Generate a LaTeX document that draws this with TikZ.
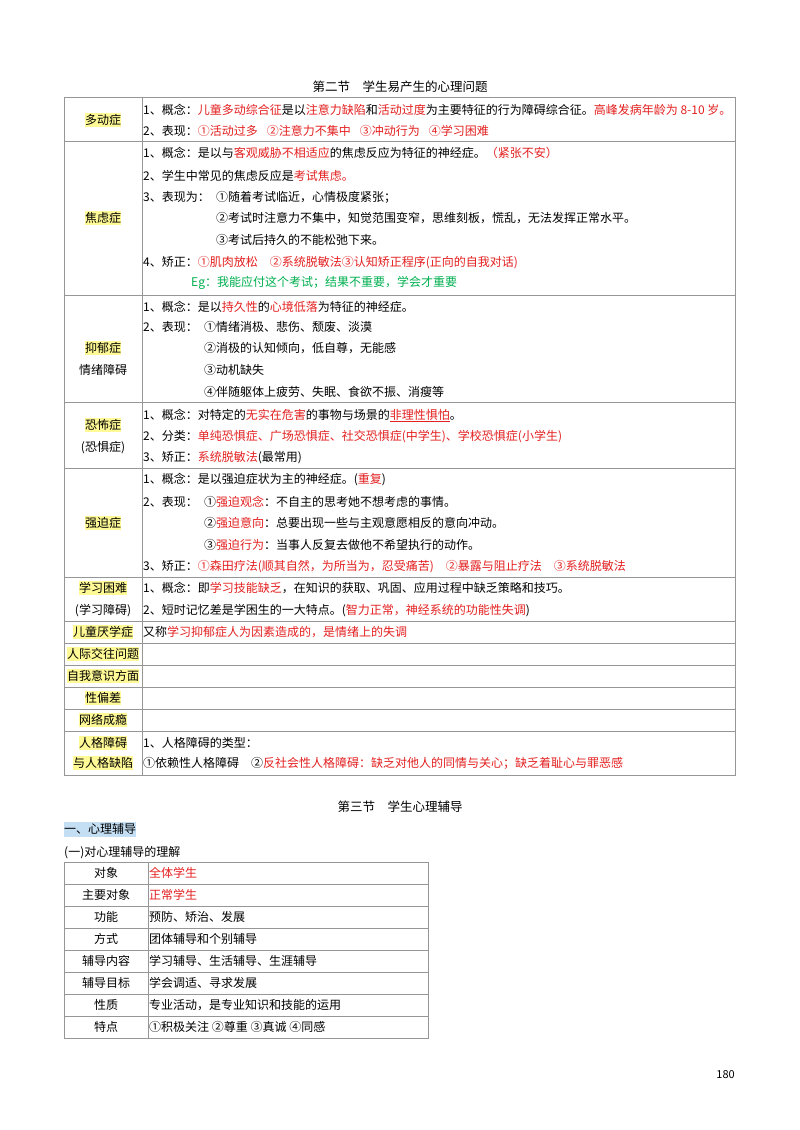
\documentclass[tikz,border=0pt]{standalone}
\usepackage{fontspec}
\setmainfont{Noto Sans CJK SC}
\usetikzlibrary{positioning}
\definecolor{redtxt}{RGB}{228,32,32}
\definecolor{grntxt}{RGB}{0,176,80}
\definecolor{hlyellow}{RGB}{255,250,150}
\definecolor{hlblue}{RGB}{196,222,244}
\definecolor{gridgray}{RGB}{150,150,150}
\newcommand{\redt}[1]{\textcolor{redtxt}{#1}}
\newcommand{\grnt}[1]{\textcolor{grntxt}{#1}}
\newcommand{\gap}{\hspace{0.75em}}

\begin{document}
\begin{tikzpicture}[x=1pt,y=-1pt,
  every node/.style={font=\fontsize{12}{14}\selectfont},
  lab/.style={fill=hlyellow,inner xsep=0pt,inner ysep=0.6pt,text height=10pt,text depth=2pt},
  sub/.style={inner sep=0pt,text height=10pt,text depth=2pt},
  ln/.style={anchor=west,inner sep=0pt,text height=10pt,text depth=2pt},
  grid/.style={draw=gridgray,line width=1pt}]

\fill[white] (0,0) rectangle (800,1130);
\useasboundingbox (0,0) rectangle (800,1130);

\node (t2) at (400,87)[font=\fontsize{12.5}{14}\selectfont] {第二节\quad 学生易产生的心理问题};

\draw[grid] (64,97) rectangle (735,775);
\draw[grid] (142,97) -- (142,775);
\draw[grid] (64,141) -- (735,141) (64,295) -- (735,295) (64,402) -- (735,402) (64,468) -- (735,468)
  (64,577) -- (735,577) (64,621) -- (735,621) (64,643) -- (735,643) (64,665) -- (735,665)
  (64,687) -- (735,687) (64,709) -- (735,709) (64,731) -- (735,731);

\node (dd) at (103,120)[lab] {多动症};
\node (dd1) at (143,110)[ln] {1、概念：\redt{儿童多动综合征}是以\redt{注意力缺陷}和\redt{活动过度}为主要特征的行为障碍综合征。\redt{高峰发病年龄为 8-10 岁。}};
\node (dd2) at (143,131)[ln] {2、表现：\redt{①活动过多\gap ②注意力不集中\gap ③冲动行为\gap ④学习困难}};

\node (jl) at (103,218)[lab] {焦虑症};
\node (jl1) at (143,153)[ln] {1、概念：是以与\redt{客观威胁不相适应}的焦虑反应为特征的神经症。\redt{（紧张不安）}};
\node (jl2) at (143,176)[ln] {2、学生中常见的焦虑反应是\redt{考试焦虑。}};
\node (jl3) at (143,197)[ln] {3、表现为：};
\node (jl3a) at (216,197)[ln] {①随着考试临近，心情极度紧张；};
\node (jl3b) at (216,218)[ln] {②考试时注意力不集中，知觉范围变窄，思维刻板，慌乱，无法发挥正常水平。};
\node (jl3c) at (216,240)[ln] {③考试后持久的不能松弛下来。};
\node (jl4) at (143,262)[ln] {4、矫正：\redt{①肌肉放松\hspace{1em}②系统脱敏法③认知矫正程序(正向的自我对话)}};
\node (jl5) at (191,282)[ln] {\grnt{Eg：我能应付这个考试；结果不重要，学会才重要}};

\node (yy) at (103,348)[lab] {抑郁症};
\node (yys) at (103,370)[sub] {情绪障碍};
\node (yy1) at (143,307)[ln] {1、概念：是以\redt{持久性}的\redt{心境低落}为特征的神经症。};
\node (yy2) at (143,327)[ln] {2、表现：};
\node (yy2a) at (204,327)[ln] {①情绪消极、悲伤、颓废、淡漠};
\node (yy2b) at (204,348)[ln] {②消极的认知倾向，低自尊，无能感};
\node (yy2c) at (204,370)[ln] {③动机缺失};
\node (yy2d) at (204,392)[ln] {④伴随躯体上疲劳、失眠、食欲不振、消瘦等};

\node (kb) at (103,425)[lab] {恐怖症};
\node (kbs) at (103,447)[sub] {(恐惧症)};
\node (kb1) at (143,415)[ln] {1、概念：对特定的\redt{无实在危害}的事物与场景的\textcolor{redtxt}{\underline{非理性惧怕}}。};
\node (kb2) at (143,436)[ln] {2、分类：\redt{单纯恐惧症、广场恐惧症、社交恐惧症(中学生)、学校恐惧症(小学生)}};
\node (kb3) at (143,457)[ln] {3、矫正：\redt{系统脱敏法}(最常用)};

\node (qp) at (103,523)[lab] {强迫症};
\node (qp1) at (143,479)[ln] {1、概念：是以强迫症状为主的神经症。(\redt{重复})};
\node (qp2) at (143,502)[ln] {2、表现：};
\node (qp2a) at (204,502)[ln] {①\redt{强迫观念}：不自主的思考她不想考虑的事情。};
\node (qp2b) at (204,523)[ln] {②\redt{强迫意向}：总要出现一些与主观意愿相反的意向冲动。};
\node (qp2c) at (204,545)[ln] {③\redt{强迫行为}：当事人反复去做他不希望执行的动作。};
\node (qp3) at (143,566)[ln] {3、矫正：\redt{①森田疗法(顺其自然，为所当为，忍受痛苦)\hspace{1em}②暴露与阻止疗法\hspace{1em}③系统脱敏法}};

\node (xx) at (103,588)[lab] {学习困难};
\node (xxs) at (103,610)[sub] {(学习障碍)};
\node (xx1) at (143,588)[ln] {1、概念：即\redt{学习技能缺乏}，在知识的获取、巩固、应用过程中缺乏策略和技巧。};
\node (xx2) at (143,610)[ln] {2、短时记忆差是学困生的一大特点。(\redt{智力正常，神经系统的功能性失调})};

\node (ey) at (103,632)[lab] {儿童厌学症};
\node (ey1) at (143,632)[ln] {又称\redt{学习抑郁症人为因素造成的，是情绪上的失调}};
\node (rj) at (103,654)[lab] {人际交往问题};
\node (zw) at (103,676)[lab] {自我意识方面};
\node (xp) at (103,698)[lab] {性偏差};
\node (wl) at (103,720)[lab] {网络成瘾};
\node (rg) at (103,743)[lab] {人格障碍};
\node (rgs) at (103,763)[lab] {与人格缺陷};
\node (rg1) at (143,743)[ln] {1、人格障碍的类型：};
\node (rg2) at (143,763)[ln] {①依赖性人格障碍\hspace{1em}②\redt{反社会性人格障碍：缺乏对他人的同情与关心；缺乏着耻心与罪恶感}};

\node (t3) at (400,807)[font=\fontsize{12.5}{14}\selectfont] {第三节\quad 学生心理辅导};
\node (h1) at (64,829)[ln,fill=hlblue,inner ysep=1.5pt] {一、心理辅导};
\node (h2) at (64,852)[ln] {(一)对心理辅导的理解};

\draw[grid] (64,862) rectangle (428,1038);
\draw[grid] (148,862) -- (148,1038);
\draw[grid] (64,884) -- (428,884) (64,906) -- (428,906) (64,928) -- (428,928) (64,950) -- (428,950)
  (64,972) -- (428,972) (64,994) -- (428,994) (64,1016) -- (428,1016);

\node (k1) at (106,873)[sub] {对象};
\node (v1) at (149,873)[ln] {\redt{全体学生}};
\node (k2) at (106,895)[sub] {主要对象};
\node (v2) at (149,895)[ln] {\redt{正常学生}};
\node (k3) at (106,917)[sub] {功能};
\node (v3) at (149,917)[ln] {预防、矫治、发展};
\node (k4) at (106,939)[sub] {方式};
\node (v4) at (149,939)[ln] {团体辅导和个别辅导};
\node (k5) at (106,961)[sub] {辅导内容};
\node (v5) at (149,961)[ln] {学习辅导、生活辅导、生涯辅导};
\node (k6) at (106,983)[sub] {辅导目标};
\node (v6) at (149,983)[ln] {学会调适、寻求发展};
\node (k7) at (106,1005)[sub] {性质};
\node (v7) at (149,1005)[ln] {专业活动，是专业知识和技能的运用};
\node (k8) at (106,1027)[sub] {特点};
\node (v8) at (149,1027)[ln] {①积极关注 ②尊重 ③真诚 ④同感};

\node (pg) at (735,1075)[anchor=east,inner sep=0pt,font=\fontsize{11}{13}\selectfont] {180};
\end{tikzpicture}
\end{document}
